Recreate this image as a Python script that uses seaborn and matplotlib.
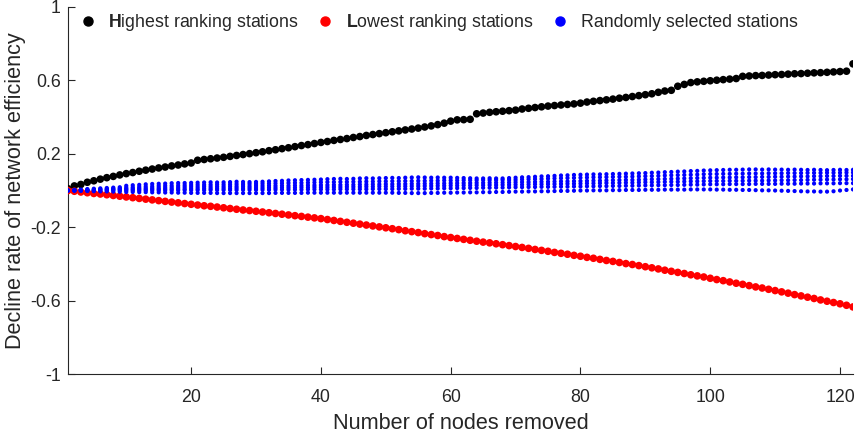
# Network efficiency decline vs. number of removed nodes
import numpy as np
import matplotlib
matplotlib.use("Agg")
import matplotlib.pyplot as plt
from matplotlib.lines import Line2D
import seaborn as sns

# ---------------------------------------------------------
# DATA
# ---------------------------------------------------------
nodes_removed = np.arange(1, 123)

highest_ranking = [
    0.010, 0.025, 0.033, 0.045, 0.053, 0.062, 0.070, 0.077, 0.085, 0.092,
    0.098, 0.105, 0.111, 0.117, 0.123, 0.128, 0.134, 0.139, 0.145, 0.150,
    0.165, 0.169, 0.173, 0.177, 0.181, 0.186, 0.191, 0.196, 0.201, 0.206,
    0.211, 0.217, 0.222, 0.228, 0.233, 0.239, 0.245, 0.250, 0.256, 0.262,
    0.267, 0.273, 0.278, 0.283, 0.289, 0.294, 0.300, 0.305, 0.310, 0.315,
    0.320, 0.325, 0.330, 0.335, 0.340, 0.346, 0.352, 0.359, 0.367, 0.378,
    0.385, 0.386, 0.388, 0.418, 0.422, 0.426, 0.429, 0.432, 0.435, 0.438,
    0.444, 0.448, 0.452, 0.456, 0.460, 0.463, 0.466, 0.469, 0.472, 0.476,
    0.482, 0.486, 0.490, 0.494, 0.498, 0.503, 0.507, 0.512, 0.517, 0.522,
    0.527, 0.535, 0.542, 0.546, 0.568, 0.578, 0.588, 0.592, 0.595, 0.598,
    0.601, 0.604, 0.607, 0.610, 0.622, 0.624, 0.626, 0.627, 0.629, 0.631,
    0.632, 0.634, 0.636, 0.637, 0.639, 0.641, 0.642, 0.644, 0.646, 0.648,
    0.650, 0.690,
]

lowest_ranking = [
    0.000, -0.004, -0.008, -0.012, -0.016, -0.019, -0.023, -0.027, -0.031, -0.035,
    -0.039, -0.043, -0.047, -0.051, -0.055, -0.059, -0.063, -0.067, -0.071, -0.075,
    -0.079, -0.083, -0.086, -0.090, -0.094, -0.098, -0.102, -0.106, -0.109, -0.113,
    -0.117, -0.121, -0.125, -0.129, -0.133, -0.137, -0.141, -0.145, -0.149, -0.153,
    -0.158, -0.163, -0.168, -0.173, -0.178, -0.183, -0.188, -0.193, -0.198, -0.203,
    -0.208, -0.213, -0.219, -0.224, -0.229, -0.235, -0.240, -0.245, -0.251, -0.256,
    -0.261, -0.266, -0.271, -0.276, -0.281, -0.285, -0.290, -0.295, -0.300, -0.305,
    -0.310, -0.315, -0.321, -0.326, -0.331, -0.337, -0.342, -0.347, -0.353, -0.358,
    -0.364, -0.369, -0.375, -0.381, -0.386, -0.392, -0.398, -0.403, -0.409, -0.415,
    -0.421, -0.427, -0.434, -0.440, -0.446, -0.452, -0.459, -0.465, -0.471, -0.478,
    -0.485, -0.491, -0.498, -0.505, -0.511, -0.518, -0.525, -0.531, -0.538, -0.545,
    -0.552, -0.559, -0.567, -0.574, -0.581, -0.588, -0.596, -0.603, -0.610, -0.617,
    -0.625, -0.634,
]

random_run_1 = [
    0.000, 0.003, 0.005, 0.008, 0.010, 0.012, 0.014, 0.016, 0.018, 0.026,
    0.029, 0.031, 0.034, 0.036, 0.037, 0.038, 0.040, 0.041, 0.041, 0.042,
    0.043, 0.044, 0.045, 0.044, 0.045, 0.046, 0.048, 0.047, 0.046, 0.047,
    0.048, 0.050, 0.052, 0.053, 0.055, 0.056, 0.057, 0.058, 0.059, 0.060,
    0.062, 0.063, 0.064, 0.063, 0.064, 0.066, 0.067, 0.066, 0.067, 0.068,
    0.069, 0.068, 0.070, 0.071, 0.072, 0.071, 0.070, 0.071, 0.070, 0.070,
    0.069, 0.068, 0.067, 0.066, 0.066, 0.067, 0.066, 0.066, 0.068, 0.070,
    0.072, 0.073, 0.075, 0.077, 0.078, 0.080, 0.082, 0.083, 0.085, 0.086,
    0.087, 0.088, 0.088, 0.089, 0.090, 0.091, 0.092, 0.093, 0.094, 0.095,
    0.097, 0.098, 0.100, 0.101, 0.103, 0.104, 0.106, 0.107, 0.109, 0.110,
    0.111, 0.112, 0.113, 0.113, 0.114, 0.115, 0.115, 0.114, 0.115, 0.114,
    0.114, 0.113, 0.114, 0.113, 0.112, 0.113, 0.112, 0.111, 0.112, 0.113,
    0.112, 0.113,
]

random_run_2 = [
    0.000, 0.002, 0.003, 0.005, 0.006, 0.008, 0.009, 0.011, 0.012, 0.016,
    0.018, 0.020, 0.022, 0.023, 0.025, 0.026, 0.027, 0.028, 0.029, 0.030,
    0.031, 0.031, 0.032, 0.033, 0.033, 0.034, 0.035, 0.035, 0.036, 0.036,
    0.037, 0.038, 0.039, 0.040, 0.041, 0.042, 0.042, 0.043, 0.044, 0.045,
    0.046, 0.046, 0.047, 0.047, 0.048, 0.048, 0.049, 0.049, 0.050, 0.050,
    0.051, 0.051, 0.052, 0.052, 0.053, 0.053, 0.054, 0.054, 0.055, 0.055,
    0.055, 0.056, 0.056, 0.056, 0.057, 0.057, 0.057, 0.058, 0.058, 0.058,
    0.060, 0.061, 0.062, 0.063, 0.065, 0.066, 0.067, 0.068, 0.069, 0.070,
    0.071, 0.072, 0.072, 0.073, 0.074, 0.075, 0.075, 0.076, 0.077, 0.078,
    0.079, 0.080, 0.082, 0.083, 0.084, 0.085, 0.086, 0.087, 0.089, 0.090,
    0.090, 0.091, 0.091, 0.092, 0.092, 0.093, 0.093, 0.093, 0.094, 0.094,
    0.094, 0.095, 0.095, 0.095, 0.096, 0.096, 0.096, 0.097, 0.097, 0.097,
    0.098, 0.098,
]

random_run_3 = [
    0.000, 0.001, 0.002, 0.003, 0.004, 0.005, 0.006, 0.007, 0.008, 0.010,
    0.011, 0.012, 0.013, 0.014, 0.015, 0.016, 0.017, 0.018, 0.019, 0.020,
    0.020, 0.021, 0.021, 0.022, 0.022, 0.023, 0.023, 0.024, 0.024, 0.025,
    0.025, 0.026, 0.026, 0.027, 0.027, 0.028, 0.028, 0.029, 0.029, 0.030,
    0.030, 0.031, 0.031, 0.032, 0.032, 0.033, 0.033, 0.034, 0.034, 0.035,
    0.035, 0.036, 0.036, 0.037, 0.037, 0.038, 0.038, 0.039, 0.039, 0.040,
    0.040, 0.041, 0.041, 0.042, 0.042, 0.043, 0.043, 0.044, 0.044, 0.045,
    0.046, 0.046, 0.047, 0.048, 0.048, 0.049, 0.050, 0.050, 0.051, 0.052,
    0.053, 0.054, 0.054, 0.055, 0.056, 0.057, 0.058, 0.058, 0.059, 0.060,
    0.061, 0.062, 0.063, 0.064, 0.065, 0.066, 0.067, 0.068, 0.069, 0.070,
    0.070, 0.071, 0.071, 0.072, 0.072, 0.073, 0.073, 0.074, 0.074, 0.075,
    0.075, 0.076, 0.076, 0.077, 0.077, 0.078, 0.078, 0.079, 0.079, 0.080,
    0.080, 0.080,
]

random_run_4 = [
    0.000, 0.000, 0.001, 0.001, 0.002, 0.002, 0.003, 0.004, 0.004, 0.005,
    0.005, 0.006, 0.006, 0.007, 0.007, 0.008, 0.008, 0.009, 0.009, 0.010,
    0.010, 0.011, 0.011, 0.012, 0.012, 0.012, 0.013, 0.013, 0.014, 0.014,
    0.014, 0.015, 0.015, 0.016, 0.016, 0.016, 0.017, 0.017, 0.018, 0.018,
    0.018, 0.019, 0.019, 0.020, 0.020, 0.020, 0.021, 0.021, 0.022, 0.022,
    0.022, 0.023, 0.023, 0.024, 0.024, 0.025, 0.025, 0.026, 0.026, 0.027,
    0.027, 0.028, 0.028, 0.029, 0.029, 0.030, 0.030, 0.031, 0.031, 0.032,
    0.032, 0.033, 0.034, 0.034, 0.035, 0.035, 0.036, 0.037, 0.037, 0.038,
    0.039, 0.039, 0.040, 0.041, 0.041, 0.042, 0.043, 0.043, 0.044, 0.045,
    0.045, 0.046, 0.047, 0.048, 0.048, 0.049, 0.050, 0.050, 0.051, 0.052,
    0.052, 0.052, 0.053, 0.053, 0.053, 0.054, 0.054, 0.054, 0.055, 0.055,
    0.056, 0.056, 0.057, 0.057, 0.058, 0.059, 0.059, 0.060, 0.060, 0.061,
    0.061, 0.062,
]

random_run_5 = [
    0.000, 0.000, 0.000, 0.000, 0.000, 0.000, 0.000, 0.000, 0.000, 0.000,
    0.000, 0.000, 0.001, 0.001, 0.001, 0.001, 0.001, 0.002, 0.002, 0.002,
    0.002, 0.002, 0.003, 0.003, 0.003, 0.003, 0.003, 0.004, 0.004, 0.004,
    0.004, 0.004, 0.005, 0.005, 0.005, 0.005, 0.005, 0.006, 0.006, 0.006,
    0.006, 0.006, 0.007, 0.007, 0.007, 0.007, 0.007, 0.008, 0.008, 0.008,
    0.008, 0.009, 0.009, 0.010, 0.010, 0.010, 0.011, 0.011, 0.012, 0.012,
    0.013, 0.013, 0.014, 0.014, 0.015, 0.015, 0.016, 0.016, 0.017, 0.018,
    0.018, 0.019, 0.019, 0.020, 0.020, 0.020, 0.021, 0.021, 0.022, 0.022,
    0.023, 0.023, 0.024, 0.024, 0.025, 0.025, 0.026, 0.026, 0.027, 0.028,
    0.028, 0.029, 0.029, 0.030, 0.030, 0.031, 0.032, 0.032, 0.033, 0.034,
    0.034, 0.034, 0.035, 0.035, 0.035, 0.035, 0.036, 0.036, 0.036, 0.036,
    0.037, 0.037, 0.037, 0.038, 0.038, 0.038, 0.039, 0.039, 0.039, 0.040,
    0.040, 0.040,
]

random_run_6 = [
    0.000, -0.001, -0.002, -0.003, -0.004, -0.005, -0.005, -0.006, -0.007, -0.008,
    -0.008, -0.009, -0.009, -0.010, -0.010, -0.011, -0.011, -0.012, -0.012, -0.013,
    -0.013, -0.013, -0.013, -0.014, -0.014, -0.014, -0.014, -0.014, -0.014, -0.014,
    -0.014, -0.014, -0.013, -0.013, -0.013, -0.013, -0.013, -0.012, -0.012, -0.012,
    -0.012, -0.012, -0.012, -0.012, -0.012, -0.012, -0.012, -0.012, -0.012, -0.012,
    -0.012, -0.013, -0.013, -0.014, -0.014, -0.014, -0.013, -0.013, -0.012, -0.012,
    -0.011, -0.011, -0.010, -0.010, -0.009, -0.009, -0.008, -0.008, -0.007, -0.006,
    -0.006, -0.005, -0.005, -0.004, -0.004, -0.003, -0.002, -0.002, -0.001, 0.000,
    0.000, 0.001, 0.001, 0.001, 0.002, 0.002, 0.003, 0.003, 0.003, 0.004,
    0.004, 0.004, 0.005, 0.005, 0.005, 0.005, 0.006, 0.006, 0.006, 0.006,
    0.005, 0.005, 0.004, 0.004, 0.003, 0.003, 0.002, 0.001, 0.001, 0.000,
    -0.001, -0.002, -0.003, -0.004, -0.005, -0.005, -0.006, -0.006, -0.004, 0.000,
    0.003, 0.006,
]

random_runs = [random_run_1, random_run_2, random_run_3,
               random_run_4, random_run_5, random_run_6]

legend_labels = [r"$\mathbf{H}$ighest ranking stations",
                 r"$\mathbf{L}$owest ranking stations",
                 "Randomly selected stations"]

y_ticks = [-1, -0.6, -0.2, 0.2, 0.6, 1]
y_tick_labels = ["-1", "-0.6", "-0.2", "0.2", "0.6", "1"]
x_ticks = [20, 40, 60, 80, 100, 120]

# ---------------------------------------------------------
# STYLE
# ---------------------------------------------------------
sns.set_style("ticks")
plt.rcParams["font.family"] = ["Liberation Sans", "DejaVu Sans"]
plt.rcParams["mathtext.fontset"] = "custom"
plt.rcParams["mathtext.rm"] = "Liberation Sans"
plt.rcParams["mathtext.bf"] = "Liberation Sans:bold"
axis_color = "#262626"

# ---------------------------------------------------------
# PLOT
# ---------------------------------------------------------
fig, ax = plt.subplots(figsize=(8.59, 4.34), dpi=100)
fig.subplots_adjust(left=0.079, right=0.993, bottom=0.138, top=0.984)

sns.scatterplot(x=nodes_removed, y=highest_ranking, color="black", s=30,
                edgecolor="none", ax=ax, legend=False, zorder=3)
sns.scatterplot(x=nodes_removed, y=lowest_ranking, color="red", s=30,
                edgecolor="none", ax=ax, legend=False, zorder=3)
for run in random_runs:
    sns.scatterplot(x=nodes_removed, y=run, color="blue", s=9,
                    edgecolor="none", ax=ax, legend=False, zorder=4)

ax.set_xlim(1, 122)
ax.set_ylim(-1, 1)
ax.set_xticks(x_ticks)
ax.set_yticks(y_ticks)
ax.set_yticklabels(y_tick_labels)
ax.tick_params(axis="both", direction="in", length=5, width=0.8,
               colors=axis_color, labelsize=12.8)
ax.tick_params(axis="x", pad=11)
ax.tick_params(axis="y", pad=5)
sns.despine(ax=ax)
for side in ["left", "bottom"]:
    ax.spines[side].set_color(axis_color)
    ax.spines[side].set_linewidth(0.8)

ax.set_xlabel("Number of nodes removed", fontsize=15.6, color=axis_color, labelpad=5)
ax.set_ylabel("Decline rate of network efficiency", fontsize=15.6, color=axis_color, labelpad=3)

handles = [Line2D([], [], marker="o", linestyle="none", color=c, markersize=6.5)
           for c in ["black", "red", "blue"]]
ax.legend(handles, legend_labels, ncol=3, loc="upper left", frameon=False,
          fontsize=12.8, handlelength=0.8, handletextpad=0.75, columnspacing=1.1,
          borderaxespad=0.0, bbox_to_anchor=(0.007, 1.005))

fig.savefig("out.png", dpi=100)
